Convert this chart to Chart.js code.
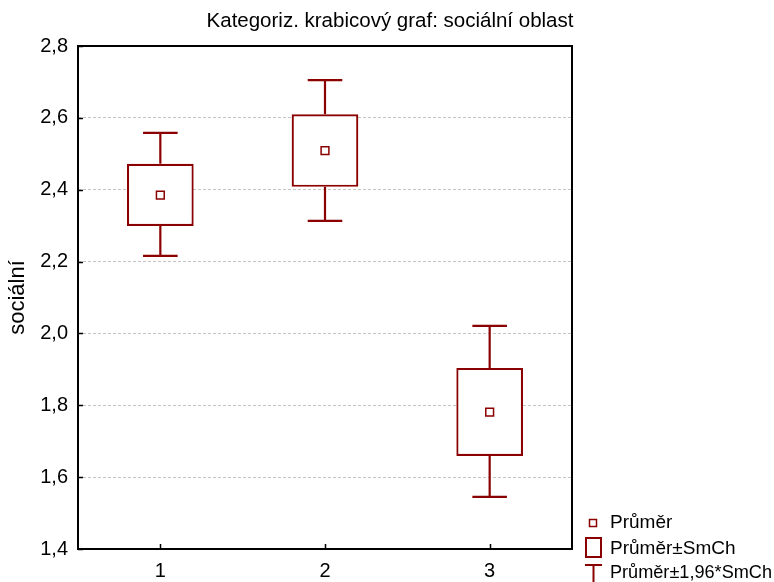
<!DOCTYPE html>
<html>
<head>
<meta charset="utf-8">
<script src="https://cdn.jsdelivr.net/npm/chart.js@4"></script>
<style>
  body { margin: 0; background: #fff; }
  canvas { display: block; }
</style>
</head>
<body>
<canvas id="myChart" width="774" height="582"></canvas>
<script>
const categories = ['1', '2', '3'];
const means = [2.385, 2.509, 1.781];
const seLow = [2.299, 2.408, 1.659];
const seHigh = [2.472, 2.610, 1.904];
const ciLow = [2.216, 2.313, 1.545];
const ciHigh = [2.558, 2.705, 2.021];

const cervena = '#8B0000';
const pismo = '"Liberation Sans", Arial, sans-serif';

// vousy, okraj grafu, tituly a legenda
const kresleni = {
  id: 'kresleni',
  afterDatasetsDraw(chart) {
    const { ctx, scales: { x, y } } = chart;
    const krok = x.getPixelForValue(1) - x.getPixelForValue(0);
    const cap = krok * 0.21 / 2;
    ctx.save();
    ctx.strokeStyle = cervena;
    ctx.lineWidth = 2.2;
    categories.forEach((c, i) => {
      const px = x.getPixelForValue(i);
      ctx.beginPath();
      ctx.moveTo(px, y.getPixelForValue(seHigh[i]));
      ctx.lineTo(px, y.getPixelForValue(ciHigh[i]));
      ctx.moveTo(px - cap, y.getPixelForValue(ciHigh[i]));
      ctx.lineTo(px + cap, y.getPixelForValue(ciHigh[i]));
      ctx.moveTo(px, y.getPixelForValue(seLow[i]));
      ctx.lineTo(px, y.getPixelForValue(ciLow[i]));
      ctx.moveTo(px - cap, y.getPixelForValue(ciLow[i]));
      ctx.lineTo(px + cap, y.getPixelForValue(ciLow[i]));
      ctx.stroke();
    });
    ctx.restore();
  },
  afterDraw(chart) {
    const { ctx, chartArea: a, scales: { x, y } } = chart;
    ctx.save();
    // ramecek
    ctx.strokeStyle = '#000';
    ctx.lineWidth = 2;
    ctx.strokeRect(a.left, a.top, a.right - a.left, a.bottom - a.top);
    ctx.lineWidth = 1.5;
    ctx.beginPath();
    y.ticks.forEach(t => {
      const py = Math.round(y.getPixelForValue(t.value)) + 0.5;
      ctx.moveTo(a.left, py);
      ctx.lineTo(a.left + 5, py);
    });
    categories.forEach((c, i) => {
      const px = Math.round(x.getPixelForValue(i)) + 0.5;
      ctx.moveTo(px, a.bottom);
      ctx.lineTo(px, a.bottom - 5);
    });
    ctx.stroke();

    // titulek
    ctx.fillStyle = '#000';
    ctx.font = '20.5px ' + pismo;
    ctx.textAlign = 'center';
    ctx.textBaseline = 'middle';
    ctx.fillText('Kategoriz. krabicový graf: sociální oblast', 390, 21);

    // legenda
    ctx.textAlign = 'left';
    ctx.font = '19px ' + pismo;
    ctx.strokeStyle = cervena;
    ctx.lineWidth = 1.5;
    ctx.strokeRect(589.5, 519.5, 7, 7);
    ctx.fillText('Průměr', 610, 523);
    ctx.lineWidth = 2;
    ctx.strokeRect(586, 538, 15, 19);
    ctx.fillText('Průměr±SmCh', 610, 549);
    ctx.beginPath();
    ctx.moveTo(585, 565);
    ctx.lineTo(602, 565);
    ctx.moveTo(593.5, 565);
    ctx.lineTo(593.5, 582);
    ctx.stroke();
    ctx.fillText('Průměr±1,96*SmCh', 610, 573, 162);
    ctx.restore();
  }
};

new Chart(document.getElementById('myChart'), {
  type: 'bar',
  data: {
    labels: categories,
    datasets: [
      {
        type: 'line',
        label: 'Průměr',
        data: means,
        showLine: false,
        pointStyle: 'rect',
        pointRadius: 5.5,
        pointBorderWidth: 1.5,
        pointBackgroundColor: '#fff',
        pointBorderColor: cervena,
        order: 0
      },
      {
        label: 'Průměr±SmCh',
        data: seLow.map((v, i) => [v, seHigh[i]]),
        backgroundColor: '#fff',
        borderColor: cervena,
        borderWidth: 2.2,
        borderSkipped: false,
        barPercentage: 0.405,
        categoryPercentage: 1,
        order: 1
      }
    ]
  },
  options: {
    responsive: false,
    animation: false,
    layout: { padding: { top: 46, right: 202, bottom: 0, left: 0 } },
    plugins: {
      legend: { display: false },
      title: { display: false },
      tooltip: { enabled: false }
    },
    scales: {
      x: {
        offset: true,
        grid: { display: false },
        border: { display: false },
        ticks: { color: '#000', font: { size: 20, family: pismo }, padding: 2 },
        afterFit(s) { s.height = 33; }
      },
      y: {
        min: 1.4,
        max: 2.8,
        ticks: {
          stepSize: 0.2,
          color: '#000',
          padding: 10,
          font: { size: 20, family: pismo },
          callback: v => v.toFixed(1).replace('.', ',')
        },
        grid: {
          color: '#c4c4c4',
          drawTicks: false,
          tickLength: 0
        },
        border: { display: false, dash: [3, 2] },
        title: {
          display: true,
          text: 'sociální',
          color: '#000',
          font: { size: 22, family: pismo },
          padding: { top: 5, bottom: 0 }
        },
        afterFit(s) { s.width = 78; }
      }
    }
  },
  plugins: [kresleni]
});
</script>
</body>
</html>
